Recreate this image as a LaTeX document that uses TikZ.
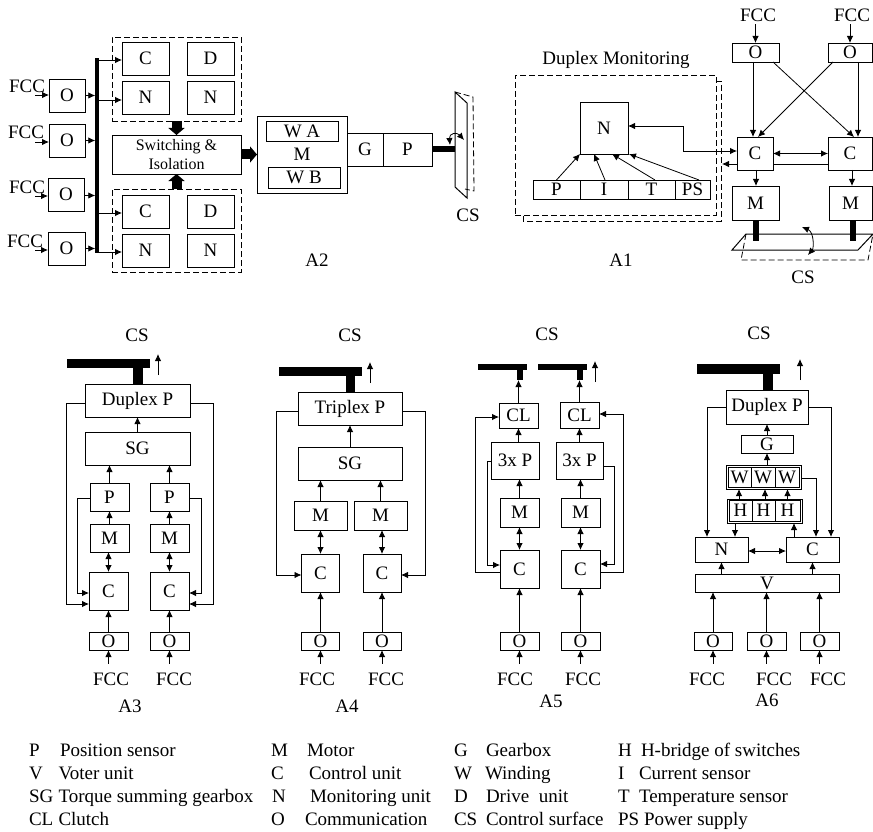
\documentclass[tikz,border=0pt]{standalone}
\usepackage{fontspec}
\setmainfont{Liberation Serif}
\usetikzlibrary{arrows.meta, positioning, calc}
\tikzstyle{arrow} = [line width=.8pt,-{Latex[length=7pt,width=6.5pt]}]
\tikzstyle{twoway} = [line width=.8pt,{Latex[length=7pt,width=6.5pt]}-{Latex[length=7pt,width=6.5pt]}]
\tikzstyle{line} = [line width=.8pt,-]

\begin{document}
\begin{tikzpicture}[
    x=1pt, y=-1pt,
    every node/.style={font=\fontsize{19}{19}\selectfont, align=center, inner sep=0pt, outer sep=0pt},
    block/.style={rectangle, draw=black, line width=.8pt, minimum width=#1},
    block/.default=39pt,
    groupbox/.style={rectangle, draw=black, line width=.8pt, dash pattern=on 6pt off 3pt},
    solidbar/.style={rectangle, fill=black},
    bus/.style={line width=10pt, -{Triangle[width=16pt,length=7pt]}},
    shaft/.style={line width=6pt, -},
    surface/.style={line width=1pt, -},
    backedge/.style={line width=.8pt, dash pattern=on 6pt off 3pt},
    keytext/.style={anchor=base west}
]
    \useasboundingbox (0,0) rectangle (873,832);

    % A2
    \node[groupbox, minimum width=129pt, minimum height=84pt] (grp2a) at (176.5,79) {};
    \node[block=47pt, minimum height=33pt] (c2a) at (145.5,58.5) {C};
    \node[block=47pt, minimum height=33pt, right=18pt of c2a] (d2a) {D};
    \node[block=47pt, minimum height=33pt, below=6pt of c2a] (n2a) {N};
    \node[block=47pt, minimum height=33pt, right=18pt of n2a] (m2a) {N};
    \node[block=129pt, minimum height=39pt, font=\fontsize{16}{19}\selectfont] (switch2) at (176.5,154.5) {Switching \&\\Isolation};
    \node[groupbox, minimum width=129pt, minimum height=83pt] (grp2b) at (176.5,230.5) {};
    \node[block=47pt, minimum height=33pt] (c2b) at (145.5,211.5) {C};
    \node[block=47pt, minimum height=33pt, right=18pt of c2b] (d2b) {D};
    \node[block=47pt, minimum height=33pt, below=6pt of c2b] (n2b) {N};
    \node[block=47pt, minimum height=33pt, right=18pt of n2b] (m2b) {N};
    \node[block=36pt, minimum height=33pt] (o2a) at (67,95.5) {O};
    \node[block=36pt, minimum height=33pt] (o2b) at (67,140.5) {O};
    \node[block=36pt, minimum height=33pt] (o2c) at (66,194.5) {O};
    \node[block=37pt, minimum height=33pt] (o2d) at (66.5,248.5) {O};
    \node[solidbar, minimum width=3.5pt, minimum height=195pt] (rail2) at (97,155.5) {};
    \node (fcc2a) at (27,86) {FCC};
    \node (fcc2b) at (26,132) {FCC};
    \node (fcc2c) at (27,187) {FCC};
    \node (fcc2d) at (25,241) {FCC};
    \node[block=90pt, minimum height=77pt] (motor2) at (302,154.5) {M};
    \node[block=72pt, minimum height=20pt] (wa2) at (302,131) {W A};
    \node[block=72pt, minimum height=21pt] (wb2) at (304,177.5) {W B};
    \node[block=36pt, minimum height=33pt] (g2) at (365,149.5) {G};
    \node[block=49pt, minimum height=33pt, right=0pt of g2] (p2) {P};
    \node (cs2) at (468,215) {CS};
    \node (a2) at (317,260) {A2};

    \coordinate (in2a) at (35,95);
    \coordinate (in2b) at (35,142);
    \coordinate (in2c) at (35,196);
    \coordinate (in2d) at (35,250);
    \draw[arrow] (in2a) -- (in2a -| o2a.west);
    \draw[arrow] (in2b) -- (in2b -| o2b.west);
    \draw[arrow] (in2c) -- (in2c -| o2c.west);
    \draw[arrow] (in2d) -- (in2d -| o2d.west);
    \draw[arrow] (o2a.east) -- (o2a.east -| rail2.west);
    \draw[arrow] (o2b.east) -- (o2b.east -| rail2.west);
    \draw[arrow] ([yshift=-1pt]o2c.east) -- ([yshift=-1pt]o2c.east -| rail2.west);
    \draw[arrow] (o2d.east) -- (o2d.east -| rail2.west);
    \draw[arrow] ([yshift=-1.5pt]c2a.west -| rail2.east) -- ([yshift=-1.5pt]c2a.west);
    \draw[arrow] ([yshift=-2.5pt]n2a.west -| rail2.east) -- ([yshift=-2.5pt]n2a.west);
    \draw[arrow] ([yshift=-1.5pt]c2b.west -| rail2.east) -- ([yshift=-1.5pt]c2b.west);
    \draw[arrow] ([yshift=-1.5pt]n2b.west -| rail2.east) -- ([yshift=-1.5pt]n2b.west);
    \draw[bus] (grp2a.south) -- (switch2.north);
    \draw[bus] (grp2b.north) -- (switch2.south);
    \draw[bus] (switch2.east) -- (motor2.west);
    % control surface of A2
    \coordinate (sf2a) at (455,92);
    \coordinate (sf2b) at (467,103);
    \coordinate (sf2c) at (467,198);
    \coordinate (sf2d) at (455,187);
    \draw[shaft] (p2.east) -- (p2.east -| sf2a);
    \draw[surface] (sf2b) -- (sf2a) -- (sf2d) -- (sf2c) -- cycle;
    \draw[backedge] (sf2a) -- (473,97) -- (474,191) -- (465,189);
    \draw[twoway] (450,145) .. controls (449,133) and (457,132) .. (464,140);

    % A1
    \node (fcc1a) at (758,15) {FCC};
    \node (fcc1b) at (852,15) {FCC};
    \node[block=47pt, minimum height=19pt] (o1a) at (755.5,52.5) {O};
    \node[block=44pt, minimum height=19pt] (o1b) at (850,52.5) {O};
    \node[block=36pt, minimum height=33pt] (c1a) at (755,153.5) {C};
    \node[block=44pt, minimum height=33pt] (c1b) at (850,153.5) {C};
    \node[block=47pt, minimum height=34pt] (m1a) at (755.5,203) {M};
    \node[block=43pt, minimum height=34pt] (m1b) at (850.5,203) {M};
    \node (title1) at (616,60) {Duplex Monitoring};
    \node[groupbox, minimum width=201pt, minimum height=140pt] (grp1) at (615.5,145) {};
    \node[block=48pt, minimum height=52pt] (n1) at (604,128) {N};
    \node[block=47pt, minimum height=19pt] (p1) at (556.5,189.5) {P};
    \node[block=48pt, minimum height=19pt, right=0pt of p1] (i1) {I};
    \node[block=47pt, minimum height=19pt, right=0pt of i1] (t1) {T};
    \node[block=35pt, minimum height=19pt, right=0pt of t1] (ps1) {PS};
    \node (a1) at (621,260) {A1};
    \node (cs1) at (803,277) {CS};

    \draw[arrow] ([yshift=-3pt]fcc1a.south -| o1a.north) -- (o1a.north);
    \draw[arrow] ([yshift=-3pt]fcc1b.south -| o1b.north) -- (o1b.north);
    \draw[arrow] ([xshift=-2.5pt]o1a.south) -- ([xshift=-2pt]c1a.north);
    \draw[arrow] ([xshift=8pt]o1b.south) -- ([xshift=8pt]c1b.north);
    \draw[arrow] ([xshift=-6pt]o1a.south east) -- ([xshift=4pt]c1b.north);
    \draw[arrow] ([xshift=5pt]o1b.south west) -- ([xshift=3pt]c1a.north);
    \draw[twoway] (c1a.east) -- (c1b.west);
    \draw[line] ([yshift=-10.5pt]c1b.west) -- ([yshift=-10.5pt]c1a.east);
    \draw[arrow] ([yshift=-10.5pt]c1a.west) -- ++(-15,0);
    \draw[arrow] ([xshift=1pt]c1a.south) -- ([xshift=.5pt]m1a.north);
    \draw[arrow] ([xshift=2pt]c1b.south) -- ([xshift=1.5pt]m1b.north);
    \draw[twoway] ([yshift=2pt]n1.east) -- ++(55,0) |- ([yshift=2.5pt]c1a.west);
    \draw[arrow] (p1.north) -- (n1.south west);
    \draw[arrow] ([xshift=1pt]i1.north) -- ([xshift=-10pt]n1.south);
    \draw[arrow] ([xshift=3.5pt]t1.north) -- ([xshift=8pt]n1.south);
    \draw[arrow] ([xshift=6.5pt]ps1.north) -- ([xshift=1pt]n1.south east);
    \draw[backedge] (716,81) -- (721,81) -- (721,221) -- (523,221) -- (523,215);
    % control surface of A1
    \draw[shaft] ([xshift=.5pt]m1a.south) -- ++(0,21);
    \draw[shaft] ([xshift=2.5pt]m1b.south) -- ++(0,21);
    \coordinate (sf1a) at (746,234);
    \coordinate (sf1b) at (873,234);
    \coordinate (sf1c) at (858,250);
    \coordinate (sf1d) at (732,250);
    \draw[surface] (sf1a) -- (sf1b) -- (sf1c) -- (sf1d) -- cycle;
    \draw[backedge] (sf1a) -- (741,260) -- (868,260) -- (sf1b);
    \draw[twoway] (802,227) .. controls (814,232) and (814,248) .. (808,255);

    % A3
    \node (cs3) at (137,335) {CS};
    \node[solidbar, minimum width=83pt, minimum height=9pt] (top3) at (108.5,363.5) {};
    \node[solidbar, minimum width=10pt, minimum height=16pt] (stem3) at (138,376) {};
    \node[block=105pt, minimum height=33pt] (dup3) at (137.5,400.5) {Duplex P};
    \node[block=105pt, minimum height=33pt, below=15pt of dup3] (sg3) {SG};
    \node[block, minimum height=28pt] (p3l) at (109.5,497) {P};
    \node[block, minimum height=28pt, below=13pt of p3l] (m3l) {M};
    \node[block, minimum height=38pt, below=20pt of m3l, xshift=-1pt] (c3l) {C};
    \node[block, minimum height=18pt, below=22pt of c3l] (o3l) {O};
    \node[block, minimum height=28pt, right=21pt of p3l] (p3r) {P};
    \node[block, minimum height=28pt, below=13pt of p3r] (m3r) {M};
    \node[block, minimum height=38pt, below=20pt of m3r] (c3r) {C};
    \node[block, minimum height=18pt, below=22pt of c3r] (o3r) {O};
    \node (fcc3l) at (111,679) {FCC};
    \node (fcc3r) at (174,679) {FCC};
    \node (a3) at (130,706) {A3};

    \coordinate (up3) at (158,375);
    \draw[arrow] (up3) -- ++(0,-21);
    \draw[arrow] (sg3.north) -- (dup3.south);
    \draw[arrow] (p3l.north) -- (p3l.north |- sg3.south);
    \draw[arrow] (p3r.north) -- (p3r.north |- sg3.south);
    \draw[arrow] (m3l.north) -- (p3l.south);
    \draw[arrow] (m3r.north) -- (p3r.south);
    \draw[twoway] (c3l.north) -- (c3l.north |- m3l.south);
    \draw[twoway] (c3r.north) -- (m3r.south);
    \draw[arrow] (o3l.north) -- (c3l.south);
    \draw[arrow] (o3r.north) -- (c3r.south);
    \draw[arrow] ([yshift=9pt]fcc3l.north -| o3l.south) -- (o3l.south);
    \draw[arrow] ([yshift=9pt]fcc3r.north -| o3r.south) -- (o3r.south);
    \draw[arrow] ([yshift=-2.5pt]dup3.west) -- ++(-19,0) |- ([yshift=-13pt]c3l.west);
    \draw[arrow] ([yshift=-2.5pt]dup3.east) -- ++(23,0) |- ([yshift=-13pt]c3r.east);
    \draw[arrow] ([yshift=-1pt]p3l.west) -- ++(-13,0) |- ([yshift=-2pt]c3l.west);
    \draw[arrow] ([yshift=-1pt]p3r.east) -- ++(12,0) |- ([yshift=-2pt]c3r.east);

    % A4
    \node (cs4) at (350,335) {CS};
    \node[solidbar, minimum width=83pt, minimum height=9pt] (top4) at (320.5,371.5) {};
    \node[solidbar, minimum width=9pt, minimum height=16pt] (stem4) at (350.5,384) {};
    \node[block=104pt, minimum height=33pt] (tri4) at (350,408.5) {Triplex P};
    \node[block=104pt, minimum height=33pt, below=22pt of tri4] (sg4) {SG};
    \node[block=53pt, minimum height=29pt] (m4l) at (320.5,515.5) {M};
    \node[block=53pt, minimum height=29pt, right=7pt of m4l] (m4r) {M};
    \node[block=38pt, minimum height=38pt, below=24pt of m4l] (c4l) {C};
    \node[block=38pt, minimum height=38pt, below=24pt of m4r, xshift=1.5pt] (c4r) {C};
    \node[block=38pt, minimum height=18pt, below=40pt of c4l] (o4l) {O};
    \node[block=38pt, minimum height=18pt, below=40pt of c4r] (o4r) {O};
    \node (fcc4l) at (317,679) {FCC};
    \node (fcc4r) at (386,679) {FCC};
    \node (a4) at (347,706) {A4};

    \coordinate (up4) at (370,383);
    \draw[arrow] (up4) -- ++(0,-21);
    \draw[arrow] (sg4.north) -- (tri4.south);
    \draw[arrow] (m4l.north) -- (m4l.north |- sg4.south);
    \draw[arrow] (m4r.north) -- (m4r.north |- sg4.south);
    \draw[twoway] (c4l.north) -- (m4l.south);
    \draw[twoway] (c4r.north) -- (c4r.north |- m4r.south);
    \draw[arrow] (o4l.north) -- (c4l.south);
    \draw[arrow] (o4r.north) -- (c4r.south);
    \draw[arrow] ([yshift=9pt]fcc4l.north -| o4l.south) -- (o4l.south);
    \draw[arrow] ([yshift=9pt]fcc4r.north -| o4r.south) -- (o4r.south);
    \draw[arrow] ([yshift=-2.5pt]tri4.west) -- ++(-22,0) |- ([yshift=-2pt]c4l.west);
    \draw[arrow] ([yshift=-2.5pt]tri4.east) -- ++(23,0) |- ([yshift=-2pt]c4r.east);

    % A5
    \node (cs5) at (547,334) {CS};
    \node[solidbar, minimum width=49pt, minimum height=6pt] (top5l) at (502.5,367) {};
    \node[solidbar, minimum width=6pt, minimum height=10pt] (stem5l) at (520,375) {};
    \node[solidbar, minimum width=49pt, minimum height=6pt] (top5r) at (562.5,367) {};
    \node[solidbar, minimum width=6pt, minimum height=10pt] (stem5r) at (580,375) {};
    \node[block, minimum height=25pt] (cl5l) at (518.5,415.5) {CL};
    \node[block=48pt, minimum height=37pt, below=14pt of cl5l, xshift=-3.5pt] (p5l) {3x P};
    \node[block, minimum height=29pt] (m5l) at (519.5,512.5) {M};
    \node[block, minimum height=38pt, below=23pt of m5l] (c5l) {C};
    \node[block, minimum height=18pt, below=44pt of c5l] (o5l) {O};
    \node[block, minimum height=26pt] (cl5r) at (579.5,415) {CL};
    \node[block=47pt, minimum height=37pt, below=14pt of cl5r] (p5r) {3x P};
    \node[block, minimum height=29pt] (m5r) at (580.5,512.5) {M};
    \node[block, minimum height=38pt, below=23pt of m5r] (c5r) {C};
    \node[block, minimum height=18pt, below=44pt of c5r] (o5r) {O};
    \node (fcc5l) at (515,679) {FCC};
    \node (fcc5r) at (583,679) {FCC};
    \node (a5) at (551,701) {A5};

    \coordinate (up5) at (595,382);
    \draw[arrow] (up5) -- ++(0,-21);
    \draw[arrow] (cl5l.north) -- (cl5l.north |- stem5l.south);
    \draw[arrow] (cl5r.north) -- (cl5r.north |- stem5r.south);
    \draw[arrow] (cl5l.south |- p5l.north) -- (cl5l.south);
    \draw[arrow] (cl5r.south |- p5r.north) -- (cl5r.south);
    \draw[arrow] (m5l.north) -- (m5l.north |- p5l.south);
    \draw[arrow] (m5r.north) -- (m5r.north |- p5r.south);
    \draw[twoway] (c5l.north) -- (m5l.south);
    \draw[twoway] (c5r.north) -- (m5r.south);
    \draw[arrow] (o5l.north) -- (c5l.south);
    \draw[arrow] (o5r.north) -- (c5r.south);
    \draw[arrow] ([yshift=9pt]fcc5l.north -| o5l.south) -- (o5l.south);
    \draw[arrow] ([yshift=9pt]fcc5r.north -| o5r.south) -- (o5r.south);
    \draw[arrow] ([yshift=-.5pt]p5l.west) -- ++(-4,0) |- ([yshift=4pt]c5l.west);
    \draw[arrow] ([yshift=-5.5pt]p5r.east) -- ++(11,0) |- ([yshift=5pt]c5r.east);
    \draw[arrow] ([yshift=-3pt]c5l.west) -- ++(-25,0) |- ([yshift=-1.5pt]cl5l.west);
    \draw[arrow] ([yshift=-3pt]c5r.east) -- ++(23,0) |- ([yshift=1pt]cl5r.east);

    % A6
    \node (cs6) at (759,333) {CS};
    \node[solidbar, minimum width=83pt, minimum height=10pt] (top6) at (738.5,369) {};
    \node[solidbar, minimum width=10pt, minimum height=16pt] (stem6) at (768,382) {};
    \node[block=82pt, minimum height=34pt] (dup6) at (767,407) {Duplex P};
    \node[block=52pt, minimum height=18pt, below=11pt of dup6] (g6) {G};
    \node[block=75pt, minimum height=24pt] (wset6) at (763.5,477) {};
    \node[block=24pt, minimum height=20pt] (w6b) at (763,477) {W};
    \node[block=23pt, minimum height=20pt, left=0pt of w6b] (w6a) {W};
    \node[block=24pt, minimum height=20pt, right=0pt of w6b] (w6c) {W};
    \node[block=75pt, minimum height=24pt] (hset6) at (764.5,511) {};
    \node[block=23pt, minimum height=21pt] (h6b) at (763.5,510.5) {H};
    \node[block=23pt, minimum height=21pt, left=0pt of h6b] (h6a) {H};
    \node[block=25pt, minimum height=21pt, right=0pt of h6b] (h6c) {H};
    \node[block=53pt, minimum height=25pt] (n6) at (721.5,549.5) {N};
    \node[block=53pt, minimum height=25pt, right=38pt of n6] (c6) {C};
    \node[block=144pt, minimum height=18pt] (v6) at (767,583) {V};
    \node[block, minimum height=18pt] (o6b) at (766.5,641) {O};
    \node[block=38pt, minimum height=18pt, left=15pt of o6b] (o6a) {O};
    \node[block, minimum height=18pt, right=14pt of o6b] (o6c) {O};
    \node (fcc6a) at (707,679) {FCC};
    \node (fcc6b) at (774,679) {FCC};
    \node (fcc6c) at (828,679) {FCC};
    \node (a6) at (767,700) {A6};

    \coordinate (up6) at (800,380);
    \draw[arrow] (up6) -- ++(0,-21);
    \draw[arrow] (g6.north) -- (dup6.south);
    \draw[arrow] (g6.south |- wset6.north) -- (g6.south);
    \draw[arrow] ([xshift=-1.5pt]hset6.north -| h6a) -- ([xshift=-1.5pt]wset6.south -| h6a);
    \draw[arrow] ([xshift=1.5pt]hset6.north -| h6b) -- ([xshift=1.5pt]wset6.south -| h6b);
    \draw[arrow] (hset6.north -| h6c) -- (wset6.south -| h6c);
    \draw[arrow] ([xshift=13.5pt]hset6.south -| n6) -- ([xshift=13.5pt]n6.north);
    \draw[arrow] ([xshift=-18.5pt]c6.north) -- ([xshift=-18.5pt]hset6.south -| c6);
    \draw[arrow] ([yshift=-1pt]wset6.east) -| ([xshift=3.5pt]c6.north);
    \draw[arrow] (dup6.east) -| ([xshift=18.5pt]c6.north);
    \draw[arrow] (dup6.west) -| ([xshift=-14.5pt]n6.north);
    \draw[twoway] ([yshift=-1.5pt]n6.east) -- ([yshift=-1.5pt]c6.west);
    \draw[arrow] (v6.north -| n6) -- (n6.south);
    \draw[arrow] (v6.north -| c6) -- (c6.south);
    \draw[arrow] (o6a.north) -- (o6a.north |- v6.south);
    \draw[arrow] (o6b.north) -- (o6b.north |- v6.south);
    \draw[arrow] (o6c.north) -- (o6c.north |- v6.south);
    \draw[arrow] ([yshift=9pt]fcc6a.north -| o6a.south) -- (o6a.south);
    \draw[arrow] ([yshift=9pt]fcc6b.north -| o6b.south) -- (o6b.south);
    \draw[arrow] ([yshift=9pt]fcc6c.north -| o6c.south) -- (o6c.south);

    % Key
    \node[keytext] (keyP) at (29,756) {P};
    \node[keytext] (txtP) at (60,756) {Position sensor};
    \node[keytext] (keyV) at (29,779) {V};
    \node[keytext] (txtV) at (58.5,779) {Voter unit};
    \node[keytext] (keySG) at (29,802) {SG};
    \node[keytext] (txtSG) at (58.5,802) {Torque summing gearbox};
    \node[keytext] (keyCL) at (29,825) {CL};
    \node[keytext] (txtCL) at (58.5,825) {Clutch};
    \node[keytext] (keyM) at (271,756) {M};
    \node[keytext] (txtM) at (307,756) {Motor};
    \node[keytext] (keyC) at (271,779) {C};
    \node[keytext] (txtC) at (309,779) {Control unit};
    \node[keytext] (keyN) at (272,802) {N};
    \node[keytext] (txtN) at (310,802) {Monitoring unit};
    \node[keytext] (keyO) at (271,825) {O};
    \node[keytext] (txtO) at (305,825) {Communication};
    \node[keytext] (keyG) at (454,756) {G};
    \node[keytext] (txtG) at (486,756) {Gearbox};
    \node[keytext] (keyW) at (454,779) {W};
    \node[keytext] (txtW) at (485,779) {Winding};
    \node[keytext] (keyD) at (454,802) {D};
    \node[keytext] (txtD) at (486,802) {Drive\ \ unit};
    \node[keytext] (keyCS) at (454,825) {CS};
    \node[keytext] (txtCS) at (486,825) {Control surface};
    \node[keytext] (keyH) at (618,756) {H};
    \node[keytext] (txtH) at (641,756) {H-bridge of switches};
    \node[keytext] (keyI) at (618,779) {I};
    \node[keytext] (txtI) at (639,779) {Current sensor};
    \node[keytext] (keyT) at (618,802) {T};
    \node[keytext] (txtT) at (639,802) {Temperature sensor};
    \node[keytext] (keyPS) at (618,825) {PS};
    \node[keytext] (txtPS) at (644,825) {Power supply};
\end{tikzpicture}
\end{document}
